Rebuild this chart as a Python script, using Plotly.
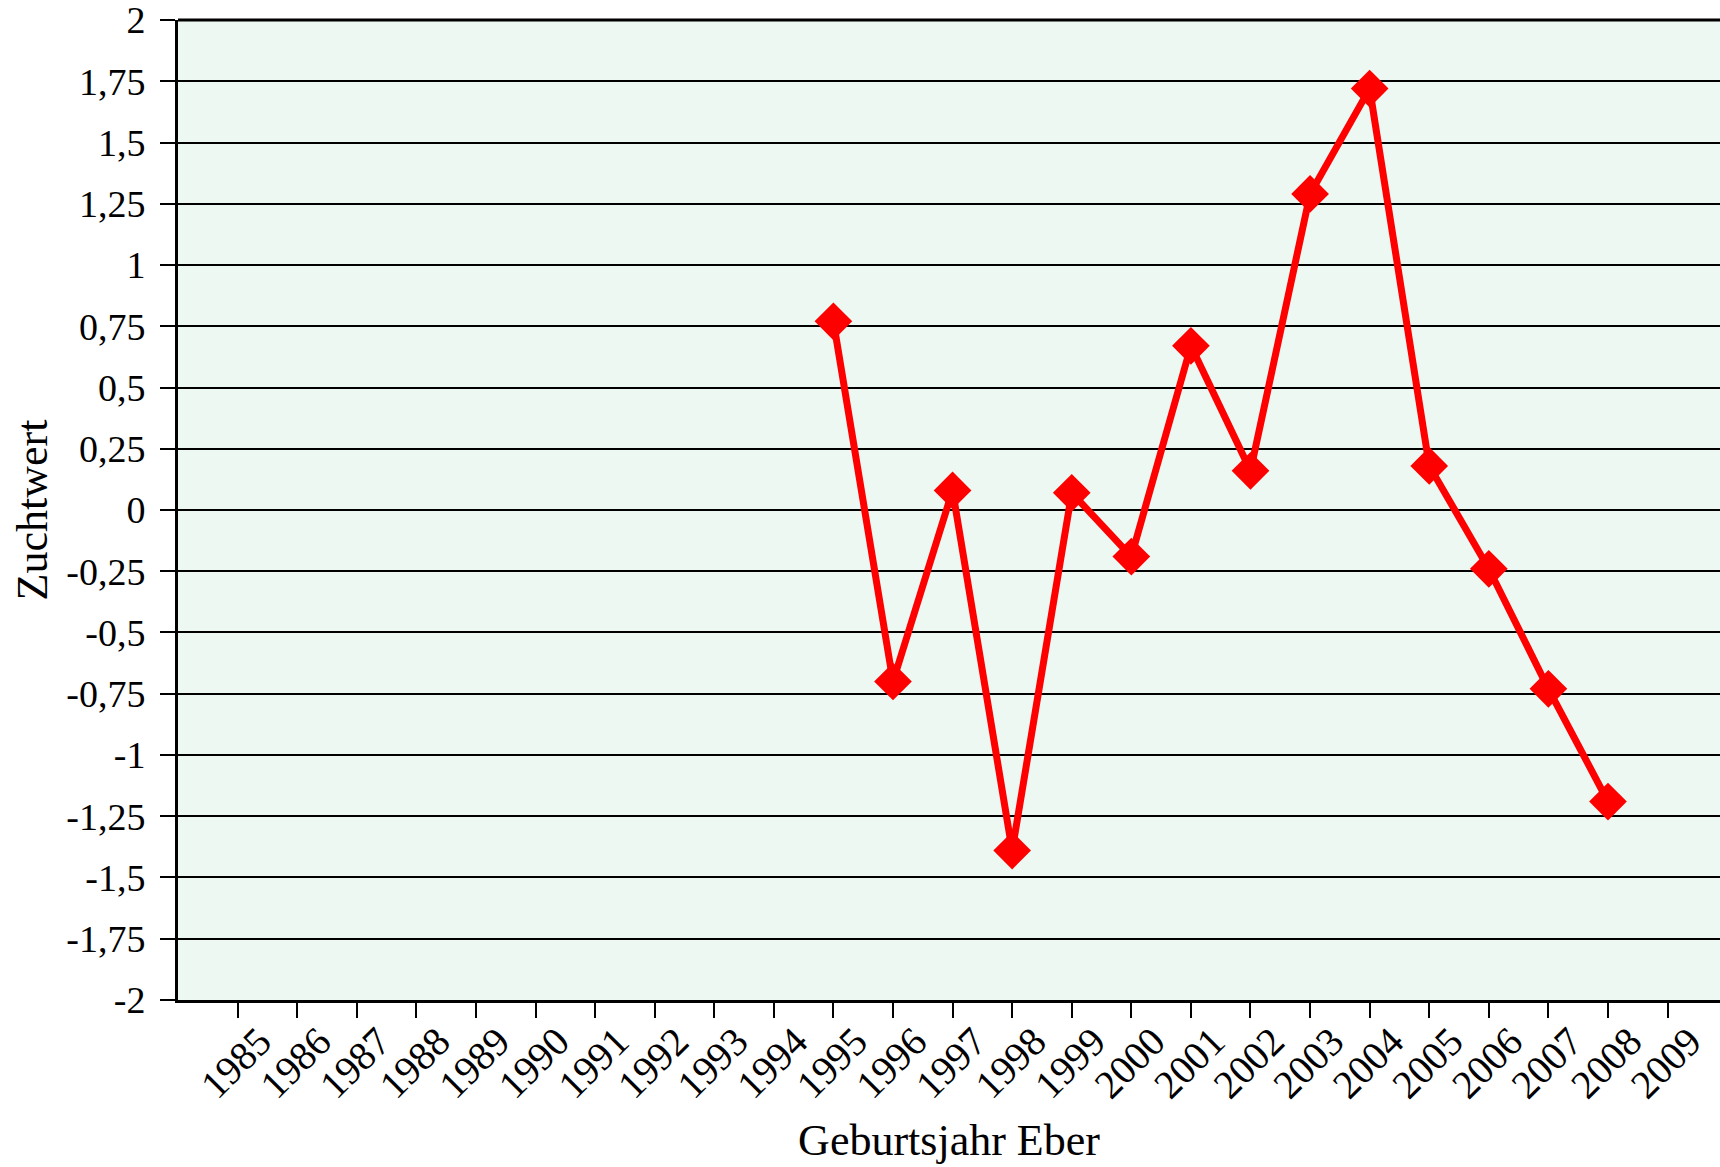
import plotly.graph_objects as go

years = [1995, 1996, 1997, 1998, 1999, 2000, 2001, 2002, 2003, 2004, 2005, 2006, 2007, 2008]
zuchtwert = [0.77, -0.70, 0.08, -1.39, 0.07, -0.19, 0.67, 0.16, 1.29, 1.72, 0.18, -0.24, -0.73, -1.19]

x_tick_years = list(range(1985, 2010))
y_ticks = [2, 1.75, 1.5, 1.25, 1, 0.75, 0.5, 0.25, 0, -0.25, -0.5, -0.75, -1, -1.25, -1.5, -1.75, -2]
y_tick_labels = ["2", "1,75", "1,5", "1,25", "1", "0,75", "0,5", "0,25", "0", "-0,25", "-0,5",
                 "-0,75", "-1", "-1,25", "-1,5", "-1,75", "-2"]

FONT = "Liberation Serif"

fig = go.Figure()
fig.add_trace(go.Scatter(
    x=years, y=zuchtwert, mode="lines+markers",
    line=dict(color="#FF0000", width=7),
    marker=dict(symbol="diamond", size=29, color="#FF0000"),
    showlegend=False, cliponaxis=False,
))

fig.update_layout(
    width=1720, height=1167,
    margin=dict(l=178, r=0, t=20, b=167),
    paper_bgcolor="white",
    plot_bgcolor="#EEF8F2",
    font=dict(family=FONT, color="black", size=38),
)
fig.update_xaxes(
    range=[1984, 2009.88], automargin=False,
    tickmode="array", tickvals=x_tick_years, ticktext=[str(y) for y in x_tick_years],
    tickangle=-45, ticks="outside", ticklen=15, tickwidth=2, tickcolor="black",
    showline=True, linecolor="black", linewidth=3, mirror=False,
    showgrid=False, zeroline=False,
    tickfont=dict(family=FONT, size=40),
    ticklabelshift=22, ticklabelstandoff=-16, ticklabeloverflow="allow",
    title=dict(text="Geburtsjahr Eber", font=dict(family=FONT, size=44), standoff=19),
)
fig.update_yaxes(
    range=[-2.0001, 2.0001], automargin=False,
    tickmode="array", tickvals=y_ticks, ticktext=y_tick_labels,
    ticks="outside", ticklen=15, tickwidth=2, tickcolor="black",
    showline=True, linecolor="black", linewidth=3,
    showgrid=True, gridcolor="black", gridwidth=2, zeroline=False,
    tickfont=dict(family=FONT, size=38),
    ticklabelstandoff=7, ticklabeloverflow="allow",
    title=dict(text="Zuchtwert", font=dict(family=FONT, size=44), standoff=5),
)
# top border line of plot area
fig.add_shape(type="line", xref="paper", yref="paper", x0=0, x1=1, y0=1, y1=1,
              line=dict(color="black", width=3))

fig.write_html("out.html", config={"displayModeBar": False},
               post_script="document.body.style.margin='0';")
